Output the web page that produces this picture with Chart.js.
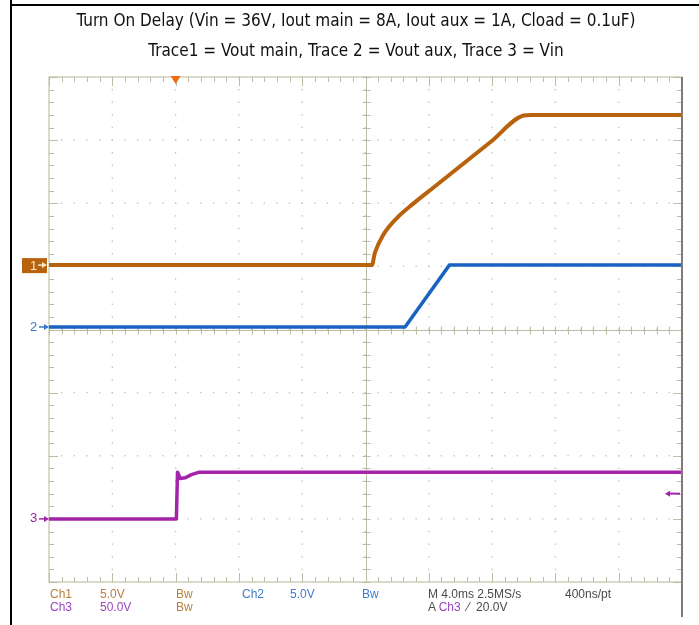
<!DOCTYPE html>
<html>
<head>
<meta charset="utf-8">
<script src="https://cdn.jsdelivr.net/npm/chart.js@4.4.1/dist/chart.umd.min.js"></script>
<style>
  body { margin: 0; background: #fff; }
  #wrap { position: relative; width: 699px; height: 625px; overflow: hidden; background: #fff; }
  #scope { position: absolute; left: 0; top: 0; }
  .edge { position: absolute; background: #000; }
  .title { position: absolute; left: 0; width: 712px; text-align: center; color: #111;
           font-family: 'Liberation Sans Narrow', 'Arial Narrow', 'DejaVu Sans Condensed', sans-serif; font-size: 17px; line-height: 20px; }
  .ro { position: absolute; font-family: 'Liberation Sans Narrow', 'Arial Narrow', sans-serif; font-size: 12px; line-height: 13px; white-space: nowrap; }
  .c1 { color: #b5803f; }
  .c2 { color: #3d7ccc; }
  .c3 { color: #9a45bd; }
  .cm { color: #4a4a4a; }
</style>
</head>
<body>
<div id="wrap">
  <canvas id="scope" width="699" height="625"></canvas>
  <div class="edge" style="left:10px;top:0;width:2px;height:625px;"></div>
  <div class="edge" style="left:10px;top:4px;width:689px;height:2px;"></div>
  <div class="title" style="top:10px;">Turn On Delay (Vin = 36V, Iout main = 8A, Iout aux = 1A, Cload = 0.1uF)</div>
  <div class="title" style="top:40px;">Trace1 = Vout main, Trace 2 = Vout aux, Trace 3 = Vin</div>

  <div class="ro c1" style="left:50px;top:588px;">Ch1</div>
  <div class="ro c1" style="left:100px;top:588px;">5.0V</div>
  <div class="ro c1" style="left:176px;top:588px;">Bw</div>
  <div class="ro c2" style="left:242px;top:588px;">Ch2</div>
  <div class="ro c2" style="left:290px;top:588px;">5.0V</div>
  <div class="ro c2" style="left:362px;top:588px;">Bw</div>
  <div class="ro cm" style="left:428px;top:588px;">M 4.0ms 2.5MS/s</div>
  <div class="ro cm" style="left:565px;top:588px;">400ns/pt</div>
  <div class="ro c3" style="left:50px;top:601px;">Ch3</div>
  <div class="ro c3" style="left:100px;top:601px;">50.0V</div>
  <div class="ro c1" style="left:176px;top:601px;">Bw</div>
  <div class="ro cm" style="left:428px;top:601px;">A <span class="c3">Ch3</span> &nbsp;⁄ &nbsp;20.0V</div>
</div>
<script>
// time base: 4 ms/div, trigger 2 div from the left
const timeMin = -8, timeMax = 32;

// Trace 1 = Vout main (Ch1, 5 V/div)
const ch1Time  = [-8, 12.4, 12.6, 13.1, 14.0, 15.0, 16.3, 18.0, 19.9, 22.0, 22.5, 32];
const ch1Volts = [0,  0,    1.0,  2.35, 3.75, 4.85, 6.15, 7.85, 9.75, 11.85, 11.9, 11.9];

// Trace 2 = Vout aux (Ch2, 5 V/div)
const ch2Time  = [-8, 14.5, 17.3, 32];
const ch2Volts = [0,  0,    4.9,  4.9];

// Trace 3 = Vin (Ch3, 50 V/div)
const ch3Time  = [-8, 0.05, 0.12, 0.3, 0.6,  1.0, 1.5, 32];
const ch3Volts = [0,  0,    37,   32,  32.5, 35,  37,  37];

const trigLevel = 20; // A Ch3 / 20.0V

const ORANGE = '#b8620d';
const BLUE   = '#1a62c2';
const PURPLE = '#a323aa';

const pts = (t, v) => t.map((x, i) => ({ x, y: v[i] }));

function arrow(ctx, x0, x1, y, color, w) {
  const dir = Math.sign(x1 - x0);
  ctx.strokeStyle = color;
  ctx.fillStyle = color;
  ctx.lineWidth = w;
  ctx.beginPath(); ctx.moveTo(x0, y); ctx.lineTo(x1 - dir * 4, y); ctx.stroke();
  ctx.beginPath(); ctx.moveTo(x1, y); ctx.lineTo(x1 - dir * 5, y - 3); ctx.lineTo(x1 - dir * 5, y + 3);
  ctx.closePath(); ctx.fill();
}

const graticule = {
  id: 'graticule',
  beforeDatasetsDraw(chart) {
    const { ctx, chartArea: a } = chart;
    const dx = (a.right - a.left) / 10, dy = (a.bottom - a.top) / 8;
    ctx.save();
    // dotted grid
    ctx.fillStyle = '#c6c6b2';
    for (let i = 1; i < 10; i++)
      for (let k = 0; k <= 40; k++)
        ctx.fillRect(a.left + i * dx - 0.7, a.top + k * dy / 5 - 0.7, 1.4, 1.4);
    for (let j = 1; j < 8; j++)
      for (let k = 0; k <= 50; k++)
        ctx.fillRect(a.left + k * dx / 5 - 0.7, a.top + j * dy - 0.7, 1.4, 1.4);
    // frame
    ctx.strokeStyle = '#d0d0bb';
    ctx.lineWidth = 1.5;
    ctx.strokeRect(a.left, a.top, a.right - a.left, a.bottom - a.top);
    ctx.strokeStyle = '#bdbda6';
    ctx.lineWidth = 1;
    ctx.beginPath();
    for (let k = 0; k <= 50; k++) {
      const x = Math.round(a.left + k * dx / 5) + 0.5, len = k % 5 === 0 ? 9 : 5;
      ctx.moveTo(x, a.top); ctx.lineTo(x, a.top + len);
      ctx.moveTo(x, a.bottom); ctx.lineTo(x, a.bottom - len);
    }
    for (let k = 0; k <= 40; k++) {
      const y = Math.round(a.top + k * dy / 5) + 0.5, len = k % 5 === 0 ? 9 : 5;
      ctx.moveTo(a.left, y); ctx.lineTo(a.left + len, y);
      ctx.moveTo(a.right, y); ctx.lineTo(a.right - len, y);
    }
    // centre cross with ticks
    const cx = Math.round(a.left + 5 * dx) + 0.5, cy = Math.round(a.top + 4 * dy) + 0.5;
    ctx.moveTo(cx, a.top); ctx.lineTo(cx, a.bottom);
    ctx.moveTo(a.left, cy); ctx.lineTo(a.right, cy);
    for (let k = 0; k <= 40; k++) {
      const y = Math.round(a.top + k * dy / 5) + 0.5;
      ctx.moveTo(cx - 4, y); ctx.lineTo(cx + 4, y);
    }
    for (let k = 0; k <= 50; k++) {
      const x = Math.round(a.left + k * dx / 5) + 0.5;
      ctx.moveTo(x, cy - 4); ctx.lineTo(x, cy + 4);
    }
    ctx.stroke();
    ctx.restore();
  },
  afterDraw(chart) {
    const { ctx, chartArea: a, scales } = chart;
    ctx.save();
    // right edge of the screen grab
    ctx.strokeStyle = '#7d7d7d';
    ctx.lineWidth = 2;
    ctx.beginPath(); ctx.moveTo(a.right, a.top); ctx.lineTo(a.right, a.bottom + 35); ctx.stroke();

    ctx.font = '13px "Liberation Sans Narrow", "Arial Narrow", sans-serif';
    ctx.textBaseline = 'middle';
    // ch1 ground marker
    const g1 = scales.y1.getPixelForValue(0);
    ctx.fillStyle = ORANGE;
    ctx.fillRect(22, g1 - 7, 25, 15);
    ctx.fillStyle = '#f7e6cf';
    ctx.fillText('1', 30, g1 + 1);
    arrow(ctx, 38, 47, g1, '#f7e6cf', 1.5);
    // ch2 ground marker
    const g2 = scales.y2.getPixelForValue(0);
    ctx.fillStyle = '#3c78c8';
    ctx.fillText('2', 30, g2);
    arrow(ctx, 39, 49, g2, '#3c78c8', 1.5);
    // ch3 ground marker
    const g3 = scales.y3.getPixelForValue(0);
    ctx.fillStyle = PURPLE;
    ctx.fillText('3', 30, g3);
    arrow(ctx, 39, 49, g3, PURPLE, 1.5);
    // trigger level arrow
    const tl = scales.y3.getPixelForValue(trigLevel);
    arrow(ctx, a.right - 2, a.right - 17, tl, PURPLE, 2);
    // trigger position marker
    const tx = scales.x.getPixelForValue(0);
    ctx.fillStyle = '#ec6a12';
    ctx.beginPath();
    ctx.moveTo(tx - 5, a.top - 1); ctx.lineTo(tx + 5, a.top - 1); ctx.lineTo(tx, a.top + 7);
    ctx.closePath(); ctx.fill();
    ctx.restore();
  }
};

new Chart(document.getElementById('scope').getContext('2d'), {
  type: 'line',
  data: {
    datasets: [
      { label: 'Vout main', data: pts(ch1Time, ch1Volts), yAxisID: 'y1', borderColor: ORANGE, borderWidth: 4, cubicInterpolationMode: 'monotone' },
      { label: 'Vout aux',  data: pts(ch2Time, ch2Volts), yAxisID: 'y2', borderColor: BLUE,   borderWidth: 3.5 },
      { label: 'Vin',       data: pts(ch3Time, ch3Volts), yAxisID: 'y3', borderColor: PURPLE, borderWidth: 3.5 }
    ]
  },
  options: {
    responsive: false,
    animation: false,
    layout: { padding: { left: 49, top: 77, right: 17, bottom: 43 } },
    elements: { point: { radius: 0 }, line: { tension: 0, borderJoinStyle: 'round', borderCapStyle: 'round' } },
    plugins: { legend: { display: false }, title: { display: false }, tooltip: { enabled: false } },
    scales: {
      x:  { type: 'linear', min: timeMin, max: timeMax, display: false },
      y1: { type: 'linear', min: -25.1, max: 14.9, display: false },
      y2: { type: 'linear', min: -20.2, max: 19.8, display: false },
      y3: { type: 'linear', min: -50,   max: 350,  display: false }
    }
  },
  plugins: [graticule]
});
</script>
</body>
</html>
